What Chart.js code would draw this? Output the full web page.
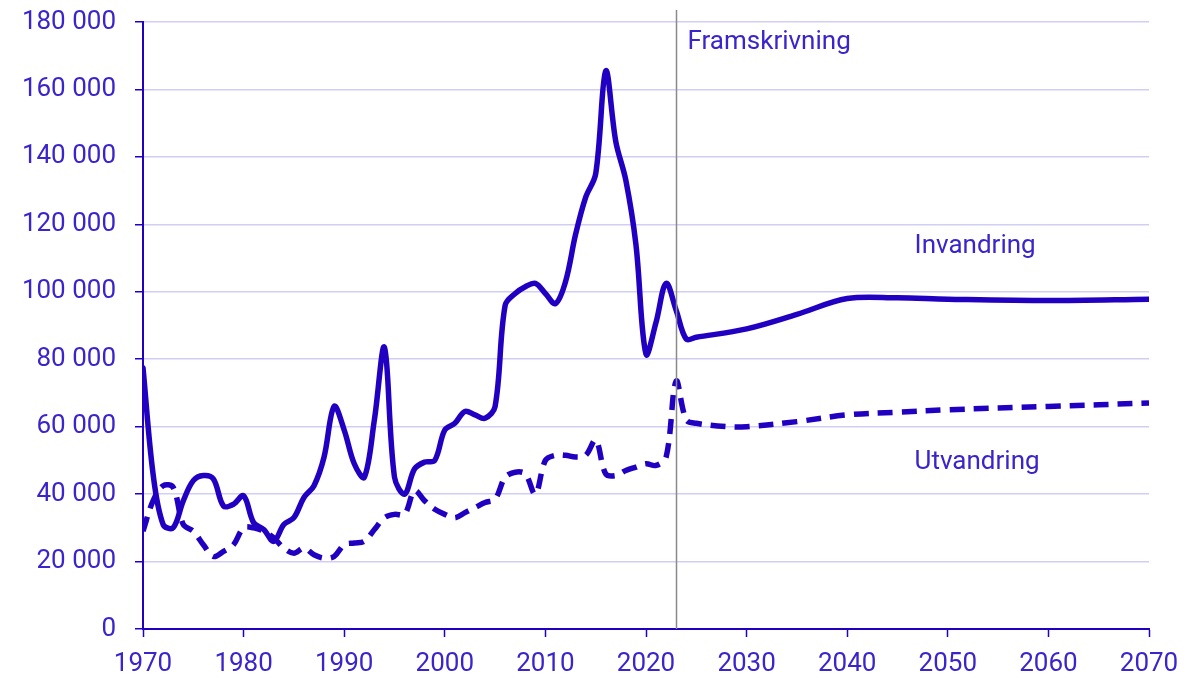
<!DOCTYPE html>
<html>
<head>
<meta charset="utf-8">
<script src="https://cdn.jsdelivr.net/npm/chart.js@4.4.1/dist/chart.umd.min.js"></script>
<style>
  html, body { margin: 0; padding: 0; background: #ffffff; }
  #wrap { width: 1185px; height: 678px; position: relative; }
</style>
</head>
<body>
<div id="wrap"><canvas id="migration-chart" width="1185" height="678"></canvas></div>
<script>
const INVANDRING_YEARS = [
  1970, 1971, 1972, 1973, 1974, 1975, 1976, 1977, 1978, 1979,
  1980, 1981, 1982, 1983, 1984, 1985, 1986, 1987, 1988, 1989,
  1990, 1991, 1992, 1993, 1994, 1995, 1996, 1997, 1998, 1999,
  2000, 2001, 2002, 2003, 2004, 2005, 2006, 2007, 2008, 2009,
  2010, 2011, 2012, 2013, 2014, 2015, 2016, 2017, 2018, 2019,
  2020, 2021, 2022, 2023, 2024, 2025, 2030, 2035, 2040, 2045,
  2050, 2060, 2070,
];
const INVANDRING_VALUES = [
  77500, 46000, 31000, 30000, 38000, 44000, 45500, 44500, 36500, 37000,
  39500, 31500, 29500, 26000, 31000, 33000, 39000, 42500, 51000, 66000,
  59000, 49000, 45000, 62000, 83500, 45000, 40000, 47500, 49500, 50000,
  59000, 61000, 64500, 63500, 62500, 66000, 96000, 99500, 101500, 102500,
  99500, 96500, 103000, 117000, 128000, 135000, 165500, 144500, 133000, 114000,
  81500, 91000, 102500, 94500, 86000, 86500, 89000, 93300, 98000, 98200,
  97800, 97400, 97800,
];

const UTVANDRING_YEARS = [
  1970, 1971, 1972, 1973, 1974, 1975, 1976, 1977, 1978, 1979,
  1980, 1981, 1982, 1983, 1984, 1985, 1986, 1987, 1988, 1989,
  1990, 1991, 1992, 1993, 1994, 1995, 1996, 1997, 1998, 1999,
  2000, 2001, 2002, 2003, 2004, 2005, 2006, 2007, 2008, 2009,
  2010, 2011, 2012, 2013, 2014, 2015, 2016, 2017, 2018, 2019,
  2020, 2021, 2022, 2023, 2024, 2025, 2028, 2030, 2035, 2040,
  2045, 2050, 2060, 2070,
];
const UTVANDRING_VALUES = [
  29000, 38000, 42500, 42000, 31000, 29000, 25000, 21500, 23000, 25000,
  30000, 30000, 29000, 27000, 24000, 22500, 24000, 22000, 21000, 21500,
  25000, 25500, 26000, 29500, 33000, 34000, 34000, 41000, 38000, 35500,
  34000, 33000, 34500, 36000, 37500, 38500, 45000, 46500, 46000, 40000,
  50000, 51500, 51500, 51000, 51500, 56000, 46000, 45500, 47000, 48000,
  49000, 48500, 51000, 73500, 62000, 61000, 60000, 60000, 61500, 63500,
  64300, 65000, 66000, 67000,
];

const X_MIN = 1970;
const X_MAX = 2070;
const Y_MAX = 180000;
const PROJECTION_START = 2023;

const SERIES_LABELS = ["Invandring", "Utvandring"];
const PROJECTION_LABEL = "Framskrivning";

const LINE_COLOR = "#2200c2";
const TEXT_COLOR = "#3a24cc";
const GRID_COLOR = "#d2cdf4";
const FONT_FAMILY = "Roboto, 'Open Sans', sans-serif";

function toPoints(years, values) {
  return years.map((year, index) => ({ x: year, y: values[index] }));
}

function formatThousands(value) {
  return String(Math.round(value)).replace(/\B(?=(\d{3})+(?!\d))/g, " ");
}

const annotationPlugin = {
  id: "projectionAnnotations",
  afterDatasetsDraw(chart) {
    const xScale = chart.scales.x;
    const yScale = chart.scales.y;
    const area = chart.chartArea;
    const ctx = chart.ctx;
    const xLine = Math.round(xScale.getPixelForValue(PROJECTION_START)) + 0.5;

    ctx.save();
    ctx.strokeStyle = "#8a8a8a";
    ctx.lineWidth = 1.5;
    ctx.beginPath();
    ctx.moveTo(xLine, area.top - 12);
    ctx.lineTo(xLine, area.bottom);
    ctx.stroke();

    ctx.fillStyle = TEXT_COLOR;
    ctx.font = `26px ${FONT_FAMILY}`;
    ctx.textBaseline = "middle";
    ctx.textAlign = "left";
    ctx.fillText(PROJECTION_LABEL, xLine + 11, yScale.getPixelForValue(174000));

    ctx.fillText(SERIES_LABELS[0], xScale.getPixelForValue(2046.7), yScale.getPixelForValue(113300));
    ctx.fillText(SERIES_LABELS[1], xScale.getPixelForValue(2046.7), yScale.getPixelForValue(49500));
    ctx.restore();
  },
};

const chart = new Chart(document.getElementById("migration-chart").getContext("2d"), {
  type: "line",
  data: {
    datasets: [
      {
        label: SERIES_LABELS[0],
        data: toPoints(INVANDRING_YEARS, INVANDRING_VALUES),
        borderColor: LINE_COLOR,
        borderWidth: 5.5,
        borderCapStyle: "round",
        borderJoinStyle: "round",
        pointRadius: 0,
        tension: 0.35,
        fill: false,
      },
      {
        label: SERIES_LABELS[1],
        data: toPoints(UTVANDRING_YEARS, UTVANDRING_VALUES),
        borderColor: LINE_COLOR,
        borderWidth: 5.5,
        borderDash: [15, 9],
        borderCapStyle: "butt",
        borderJoinStyle: "round",
        pointRadius: 0,
        tension: 0.35,
        fill: false,
      },
    ],
  },
  options: {
    responsive: false,
    animation: false,
    layout: { padding: { top: 22, right: 36, bottom: 0, left: 0 } },
    plugins: {
      legend: { display: false },
      tooltip: { enabled: false },
    },
    scales: {
      x: {
        type: "linear",
        min: X_MIN,
        max: X_MAX,
        afterFit(scale) {
          scale.height = 49;
          scale.paddingLeft = 0;
          scale.paddingRight = 0;
        },
        border: { display: true, color: LINE_COLOR, width: 2 },
        grid: {
          drawOnChartArea: false,
          drawTicks: true,
          tickLength: 8,
          tickColor: LINE_COLOR,
          tickWidth: 1.5,
        },
        ticks: {
          stepSize: 10,
          maxRotation: 0,
          color: TEXT_COLOR,
          padding: 12,
          font: { family: FONT_FAMILY, size: 26 },
          callback: (value) => String(value),
        },
      },
      y: {
        min: 0,
        max: Y_MAX,
        afterFit(scale) {
          scale.width = 143;
          scale.paddingTop = 0;
          scale.paddingBottom = 0;
        },
        border: { display: true, color: LINE_COLOR, width: 2 },
        grid: {
          color: GRID_COLOR,
          lineWidth: 1.5,
          drawTicks: true,
          tickLength: 8,
          tickColor: LINE_COLOR,
          tickWidth: 1.5,
        },
        ticks: {
          stepSize: 20000,
          color: TEXT_COLOR,
          padding: 19,
          font: { family: FONT_FAMILY, size: 26 },
          callback: (value) => formatThousands(value),
        },
      },
    },
  },
  plugins: [annotationPlugin],
});
</script>
</body>
</html>
